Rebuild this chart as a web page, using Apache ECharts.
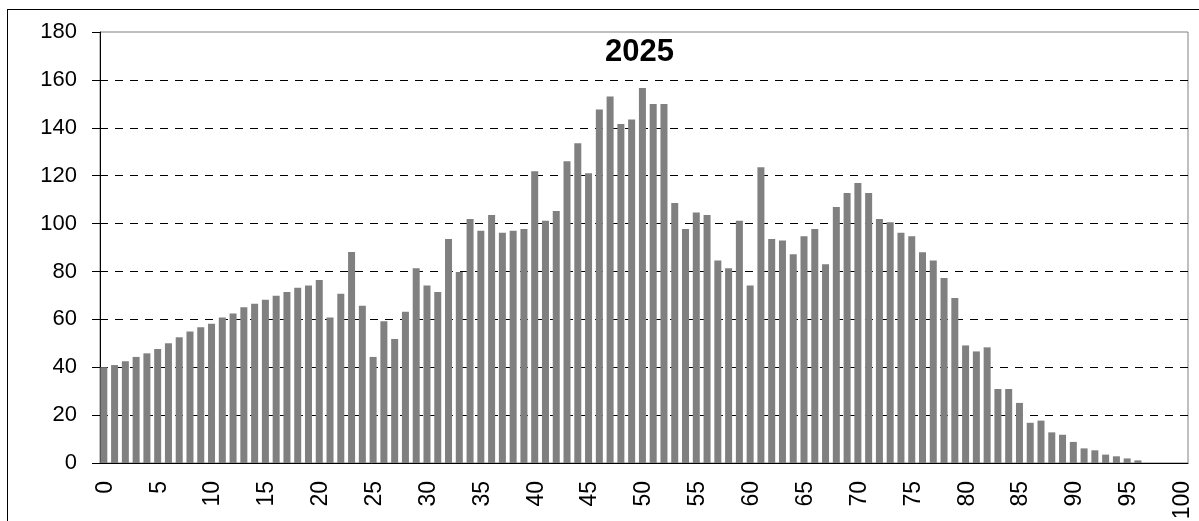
<!DOCTYPE html>
<html>
<head>
<meta charset="utf-8">
<script src="https://cdn.jsdelivr.net/npm/echarts@6/dist/echarts.min.js"></script>
<style>
html, body { margin: 0; padding: 0; background: #fff; overflow: hidden; }
#frame { position: absolute; left: 7px; top: 9px; width: 1400px; height: 700px; border: 1px solid #000; }
#chart { position: absolute; left: 0; top: 0; width: 1199px; height: 521px; }
</style>
</head>
<body>
<div id="frame"></div>
<div id="chart"></div>
<script>
/*** population by age, single year 2025 **/

var titleTxt = '2025';

// ages 0..100
var ages = [];
for (var a = 0; a <= 100; a++) { ages.push(String(a)); }

var counts = [
	40.0, 40.9, 42.5, 44.3, 45.8, 47.6, 50.0, 52.5, 54.9, 56.7,
	58.2, 60.8, 62.4, 65.0, 66.5, 68.2, 69.9, 71.4, 73.2, 74.1,
	76.4, 60.8, 70.7, 88.1, 65.7, 44.3, 59.2, 51.8, 63.2, 81.3,
	74.1, 71.4, 93.6, 79.8, 101.9, 97.0, 103.6, 96.2, 97.0, 97.7,
	121.8, 101.2, 105.2, 126.0, 133.5, 121.0, 147.6, 153.1, 141.6, 143.5,
	156.6, 149.9, 149.9, 108.6, 97.7, 104.6, 103.6, 84.6, 81.3, 101.2,
	74.1, 123.5, 93.6, 92.9, 87.2, 94.7, 97.7, 83.0, 106.9, 112.8,
	116.9, 112.8, 101.9, 100.5, 96.2, 94.7, 88.0, 84.6, 77.3, 68.9,
	49.1, 46.6, 48.3, 30.9, 30.9, 25.1, 16.8, 17.7, 12.8, 11.8,
	8.8, 6.1, 5.3, 3.5, 2.8, 1.9, 1.1, 0, 0, 0, 0
];

// hidden second series (empty), pushes the visible bar to the left of each slot
var emptySeries = ages.map(function () { return null; });

var yMin = 0, yMax = 180, yStep = 20;

// split line colours: hide the one at 0 and the one at the top
var splitColors = [];
for (var v = yMin; v <= yMax; v += yStep) {
	splitColors.push((v === yMin || v === yMax) ? 'rgba(0,0,0,0)' : '#000');
}

var font = "'Liberation Sans', Arial, sans-serif";

var myChart = echarts.init(document.getElementById('chart'), null, { renderer: 'canvas' });
myChart.setOption({
	animation: false,
	title: {
		text: titleTxt,
		left: 600,
		top: 32,
		textStyle: { fontFamily: font, fontSize: 31, fontWeight: 'bold', color: '#000' }
	},
	grid: {
		left: 100,
		right: 11,
		top: 32,
		bottom: 58,
		show: true,
		borderColor: '#808080',
		borderWidth: 1,
		outerBoundsMode: 'none'
	},
	xAxis: {
		type: 'category',
		data: ages,
		boundaryGap: true,
		axisLine: { lineStyle: { color: '#000', width: 1 } },
		axisTick: { interval: 0, length: 8, lineStyle: { color: '#000' } },
		axisLabel: {
			interval: 4,
			rotate: 90,
			margin: 18,
			color: '#000',
			fontFamily: font,
			fontSize: 23
		},
		splitLine: { show: false }
	},
	yAxis: {
		type: 'value',
		min: yMin,
		max: yMax,
		interval: yStep,
		axisLine: { show: true, lineStyle: { color: '#000', width: 1 } },
		axisTick: { show: true, length: 8, lineStyle: { color: '#000' } },
		axisLabel: {
			margin: 23,
			color: '#000',
			fontFamily: font,
			fontSize: 22
		},
		splitLine: {
			show: true,
			lineStyle: { color: splitColors, type: [8, 7], width: 1 }
		}
	},
	series: [
		{
			name: titleTxt,
			type: 'bar',
			data: counts,
			barWidth: 7,
			barGap: '-55%',
			itemStyle: { color: '#808080' }
		},
		{
			name: 'blank',
			type: 'bar',
			data: emptySeries,
			barWidth: 7,
			itemStyle: { color: 'rgba(0,0,0,0)' }
		}
	]
});
</script>
</body>
</html>
